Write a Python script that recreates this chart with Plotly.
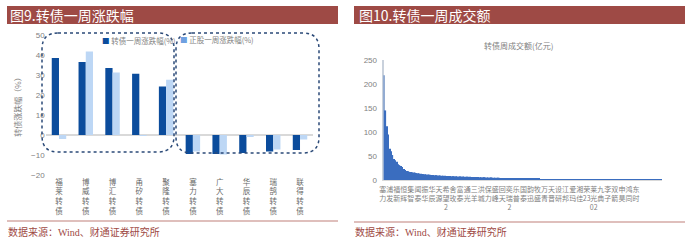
import plotly.graph_objects as go

# ---------------- data ----------------
left_categories = ["福莱转债", "博威转债", "博汇转债", "甬矽转债", "聚隆转债",
                   "塞力转债", "广大转债", "华辰转债", "瑞鹄转债", "联得转债"]
bond_change = [38.5, 36.5, 33.5, 30.6, 24.2, -9.5, -9.5, -9.0, -8.3, -7.5]
stock_change = [-2.0, 41.8, 31.3, -0.5, 27.6, -8.2, -9.7, -1.0, -7.2, -2.2]
left_yticks = [-20, -10, 0, 10, 20, 30, 40, 50]

turnover = [250, 218, 145, 112, 95, 65, 60, 52, 44, 41,
            38, 33, 31, 29, 27, 23, 21, 19, 18, 17,
            16.5, 16, 15.5, 15, 14.5, 14, 13.5, 13, 12.7, 12.4,
            12, 11.7, 11.4, 11.1, 10.8, 10.5, 10.2, 10, 9.8, 9.6,
            9.4, 9.2, 9, 8.8, 8.6, 8.5, 8.4, 8.3, 8.2, 8.0,
            7.9, 7.8, 7.6, 7.5, 7.4, 7.3, 7.2, 7.1, 7.0, 6.9,
            6.8, 6.7, 6.6, 6.5, 6.4, 6.3, 6.2, 6.1, 6.0, 5.9,
            5.8, 5.7, 5.6, 5.5, 5.4, 5.3, 5.2, 5.1, 5.0, 4.9,
            4.8, 4.7, 4.6, 4.5, 4.4, 4.3, 4.2, 4.1, 4.0, 3.9,
            3.8, 3.7, 3.6, 3.5, 3.4, 3.3, 3.2, 3.1, 3.0, 2.9,
            2.8, 2.7, 2.7, 2.6, 2.5, 2.5, 2.4, 2.3, 2.3, 2.2,
            2.1, 2.1, 2.0, 2.0, 1.9, 1.9, 1.8, 1.8, 1.7, 1.7,
            1.6, 1.6, 1.5, 1.5, 1.5, 1.4, 1.4, 1.4, 1.3, 1.3,
            1.3, 1.2, 1.2, 1.2, 1.1, 1.1, 1.1, 1.0, 1.0, 1.0,
            1.0, 0.9, 0.9, 0.9, 0.9, 0.9, 0.8, 0.8, 0.8, 0.8,
            0.8, 0.8, 0.7, 0.7, 0.7, 0.7, 0.7, 0.7, 0.7, 0.6,
            0.6, 0.6, 0.6, 0.6, 0.6, 0.6, 0.6, 0.5, 0.5, 0.5,
            0.5, 0.5, 0.5, 0.5, 0.5, 0.5, 0.4, 0.4, 0.4, 0.4,
            0.4, 0.4, 0.4, 0.4, 0.4, 0.3, 0.3, 0.3, 0.3, 0.3,
            0.3, 0.3, 0.3, 0.3, 0.3, 0.2, 0.2, 0.2, 0.2]
right_labels = ["塞力", "浦发", "福新", "恒辉", "集智", "闻泰", "振华", "华辰", "天源", "希望",
                "舍玫", "富泰", "通光", "三羊", "洪城", "保力", "盛峰", "回天", "奕瑞", "乐普",
                "国泰", "韵迅", "牧盛", "万青", "天晋", "设研", "江邦", "爱玛", "湘佳", "荣23",
                "莱光", "九典", "李子", "双箭", "申昊", "鸿同", "东时"]
right_label_step = 5
right_yticks = [0, 50, 100, 150, 200, 250]

# ---------------- styling ----------------
W, H = 700, 250
DARK = "#0b4c9c"
LIGHT = "#bdd7f5"
RED = "#9e4a45"
GREY = "#595959"
FONT = "Liberation Sans, Noto Sans CJK SC"
CJK = "Noto Sans CJK SC"


def fx(x):
    return x / W


def fy(y):
    return 1 - y / H


fig = go.Figure()

# left chart bars
fig.add_trace(go.Bar(x=left_categories, y=bond_change, name="转债一周涨跌幅(%)",
                     marker=dict(color=DARK, line=dict(width=0)),
                     width=0.27, offset=-0.27, xaxis="x", yaxis="y"))
fig.add_trace(go.Bar(x=left_categories, y=stock_change, name="正股一周涨跌幅(%)",
                     marker=dict(color=LIGHT, line=dict(width=0)),
                     width=0.27, offset=0.0, xaxis="x", yaxis="y"))

# right chart bars
idx = list(range(len(turnover)))
bar_colors = ["#c9d1dc", "#93acd2"] + ["#3a6dbf"] * (len(turnover) - 2)
fig.add_trace(go.Bar(x=idx, y=turnover, name="转债周成交额(亿元)",
                     marker=dict(color=bar_colors, line=dict(width=0)),
                     width=0.85, xaxis="x2", yaxis="y2"))

left_ticktext = ["<br>".join(list(c)) for c in left_categories]
right_tickvals = [i * right_label_step for i in range(len(right_labels))]
right_ticktext = []
for i, lab in enumerate(right_labels):
    if lab[1:].isdigit():
        t = lab[0] + "<br>" + lab[1:]
    else:
        t = lab[0] + "<br>" + lab[1]
    if i in (9, 18):
        t += "<br>2"
    if i == 30:
        t += "<br>02"
    right_ticktext.append(t)

fig.update_layout(
    width=W, height=H,
    margin=dict(l=0, r=0, t=0, b=0, autoexpand=False),
    paper_bgcolor="white", plot_bgcolor="white",
    showlegend=False,
    barmode="group",
    font=dict(family=FONT, color=GREY, size=8),
    xaxis=dict(domain=[fx(45.6), fx(313.4)], anchor="y", type="category",
               tickmode="array", tickvals=left_categories, ticktext=left_ticktext,
               tickfont=dict(size=7.5, color="#6a6a6a", family=CJK), automargin=False,
               ticklabelstandoff=1,
               showline=False, showgrid=False, ticks="", fixedrange=True),
    yaxis=dict(domain=[fy(175), fy(35)], anchor="x", range=[-20, 50],
               tickvals=left_yticks, showgrid=False, zeroline=True,
               zerolinecolor="#d9d9d9", zerolinewidth=2, showline=False,
               tickfont=dict(size=8, color="#7f7f7f"), ticks="", automargin=False,
               title=dict(text="转债涨跌幅（%）", font=dict(size=8, color="#7f7f7f", family=CJK),
                          standoff=8)),
    xaxis2=dict(domain=[fx(382), fx(662)], anchor="y2", range=[-0.5, len(turnover) - 0.5],
                tickmode="array", tickvals=right_tickvals, ticktext=right_ticktext,
                tickangle=0, automargin=False, ticklabelstandoff=4,
                tickfont=dict(size=7, color="#7f7f7f", family=CJK),
                showline=False, showgrid=False, ticks="", zeroline=False),
    yaxis2=dict(domain=[fy(180), fy(60)], anchor="x2", range=[0, 250],
                tickvals=right_yticks, showgrid=False, zeroline=True,
                zerolinecolor="#d9d9d9", zerolinewidth=1.5, showline=False,
                tickfont=dict(size=8, color="#7f7f7f"), ticks="", automargin=False,
                ticklabelstandoff=4),
)

shapes = []
# title bars
shapes.append(dict(type="rect", xref="paper", yref="paper", x0=fx(7), x1=fx(338),
                   y0=fy(24), y1=fy(6), fillcolor=RED, line=dict(width=0), layer="below"))
shapes.append(dict(type="rect", xref="paper", yref="paper", x0=fx(354), x1=fx(685),
                   y0=fy(24), y1=fy(6), fillcolor=RED, line=dict(width=0), layer="below"))
# separator lines
shapes.append(dict(type="line", xref="paper", yref="paper", x0=fx(7), x1=fx(338),
                   y0=fy(221), y1=fy(221), line=dict(color="#c0807a", width=1.2)))
shapes.append(dict(type="line", xref="paper", yref="paper", x0=fx(354), x1=fx(685),
                   y0=fy(222), y1=fy(222), line=dict(color="#c0807a", width=1.2)))


def rounded_box(l, t, r, b, rad):
    pts = [
        f"M {fx(l + rad)} {fy(t)}",
        f"L {fx(r - rad)} {fy(t)}",
        f"Q {fx(r)} {fy(t)} {fx(r)} {fy(t + rad)}",
        f"L {fx(r)} {fy(b - rad)}",
        f"Q {fx(r)} {fy(b)} {fx(r - rad)} {fy(b)}",
        f"L {fx(l + rad)} {fy(b)}",
        f"Q {fx(l)} {fy(b)} {fx(l)} {fy(b - rad)}",
        f"L {fx(l)} {fy(t + rad)}",
        f"Q {fx(l)} {fy(t)} {fx(l + rad)} {fy(t)}",
        "Z",
    ]
    return dict(type="path", xref="paper", yref="paper", path=" ".join(pts),
                line=dict(color="#2b4a78", width=1.5, dash="dot"))


shapes.append(rounded_box(42, 33, 174, 152, 16))
shapes.append(rounded_box(176, 33, 319, 153, 16))

annotations = [
    dict(text="图9.转债一周涨跌幅", x=fx(8), y=fy(15), xanchor="left", yanchor="middle",
         font=dict(size=14, color="white", family=CJK)),
    dict(text="图10.转债一周成交额", x=fx(357), y=fy(15), xanchor="left", yanchor="middle",
         font=dict(size=14, color="white", family=CJK)),
    dict(text="数据来源：Wind、财通证券研究所", x=fx(6), y=fy(232), xanchor="left", yanchor="middle",
         font=dict(size=10, color=RED, family="Liberation Serif, Noto Sans CJK SC")),
    dict(text="数据来源：Wind、财通证券研究所", x=fx(353), y=fy(232), xanchor="left", yanchor="middle",
         font=dict(size=10, color=RED, family="Liberation Serif, Noto Sans CJK SC")),
    dict(text="转债周成交额(亿元)", x=fx(518), y=fy(46), xanchor="center", yanchor="middle",
         font=dict(size=8, color="#7f7f7f", family=CJK)),
    dict(text=f"<span style='color:{DARK}'>■</span> 转债一周涨跌幅(%)", x=fx(100), y=fy(40),
         xanchor="left", yanchor="middle", font=dict(size=7.5, color="#7f7f7f", family=CJK)),
    dict(text=f"<span style='color:#6fa0e0'>■</span> 正股一周涨跌幅(%)", x=fx(178), y=fy(39.5),
         xanchor="left", yanchor="middle", font=dict(size=7.5, color="#7f7f7f", family=CJK)),
]
for a in annotations:
    a.update(xref="paper", yref="paper", showarrow=False)

fig.update_layout(shapes=shapes, annotations=annotations)
fig.write_html("out.html")
